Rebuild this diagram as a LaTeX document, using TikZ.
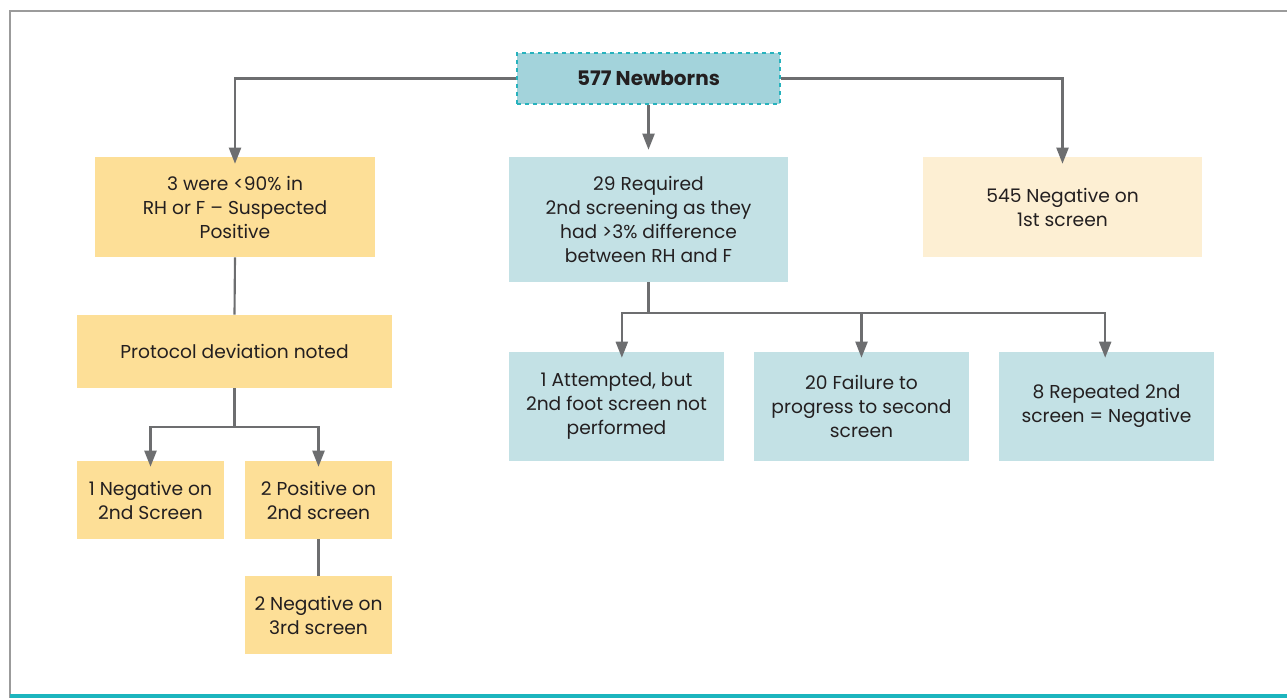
\documentclass[tikz,border=0pt]{standalone}
\usepackage{fontspec}
\setmainfont{Poppins}
\usetikzlibrary{arrows.meta}
\definecolor{yel}{HTML}{FDDF97}
\definecolor{cream}{HTML}{FDEFD3}
\definecolor{lteal}{HTML}{C3E1E5}
\definecolor{nbfill}{HTML}{A3D3DB}
\definecolor{nbline}{HTML}{27B2BD}
\definecolor{conn}{HTML}{6D6E70}
\definecolor{txt}{HTML}{231F20}
\definecolor{framegray}{HTML}{9B9B9B}
\definecolor{frameteal}{HTML}{1CB5BE}
\begin{document}
\begin{tikzpicture}[x=0.75pt,y=-0.75pt,
  box/.style={inner sep=2pt,align=center,text=txt,font=\fontsize{14}{18}\selectfont},
  yelbox/.style={box,fill=yel},
  tealbox/.style={box,fill=lteal},
  creambox/.style={box,fill=cream},
  link/.style={draw=conn,line width=1.6pt},
  arr/.style={link,-{Triangle[width=9pt,length=12pt]}}]
\useasboundingbox (0,0) rectangle (1287,698);
\draw[framegray,line width=1.6pt] (10,698) -- (10,11) -- (1287,11);
\draw[frameteal,line width=2.4pt] (10,696) -- (1287,696);

\node[box,fill=nbfill,draw=nbline,dashed,line width=1pt,minimum width=197.25pt,minimum height=38.25pt,font=\fontsize{15}{18}\selectfont\bfseries] (nb) at (648.5,78.5) {577 Newborns};
\node[yelbox,minimum width=210pt,minimum height=75pt] (l1) at (235,207) {3 were <90\% in\\RH or F – Suspected\\Positive};
\node[tealbox,minimum width=209.25pt,minimum height=93.75pt] (m1) at (648.5,219.5) {29 Required\\2nd screening as they\\had >3\% difference\\between RH and F};
\node[creambox,minimum width=209.25pt,minimum height=75pt] (r1) at (1062.5,207) {545 Negative on\\1st screen};
\node[yelbox,minimum width=236.25pt,minimum height=54.75pt] (pr) at (234.5,351.5) {Protocol deviation noted};
\node[yelbox,minimum width=110.25pt,minimum height=58.5pt] (n1) at (150.5,500) {1 Negative on\\2nd Screen};
\node[yelbox,minimum width=110.25pt,minimum height=58.5pt] (p2) at (318.5,500) {2 Positive on\\2nd screen};
\node[yelbox,minimum width=110.25pt,minimum height=58.5pt] (n3) at (318.5,615) {2 Negative on\\3rd screen};
\node[tealbox,minimum width=161.25pt,minimum height=81.75pt] (b1) at (616.5,406.5) {1 Attempted, but\\2nd foot screen not\\performed};
\node[tealbox,minimum width=161.25pt,minimum height=81.75pt] (b2) at (861.5,406.5) {20 Failure to\\progress to second\\screen};
\node[tealbox,minimum width=161.25pt,minimum height=81.75pt] (b3) at (1106.5,406.5) {8 Repeated 2nd\\screen = Negative};

\draw[arr] (nb.west) -| ([yshift=-5.25pt]l1.north);
\draw[arr] (nb.south) -- ([yshift=5.25pt]m1.north);
\draw[arr] (nb.east) -| ([yshift=-5.25pt]r1.north);
\draw[link] (l1.south) -- (pr.north);
\coordinate (pj) at (234.5,427);
\draw[link] (pr.south) -- (pj);
\draw[arr] (pj) -| ([yshift=-4.5pt]n1.north);
\draw[arr] (pj) -| ([yshift=-4.5pt]p2.north);
\draw[link] (p2.south) -- (n3.north);
\coordinate (mj) at (648.5,313);
\draw[link] (m1.south) -- (mj);
\draw[arr] (mj) -| ([xshift=4pt,yshift=-4.5pt]b1.north);
\draw[arr] (mj) -| ([yshift=-4.5pt]b2.north);
\draw[arr] (mj) -| ([xshift=-1pt,yshift=-4.5pt]b3.north);
\end{tikzpicture}
\end{document}
